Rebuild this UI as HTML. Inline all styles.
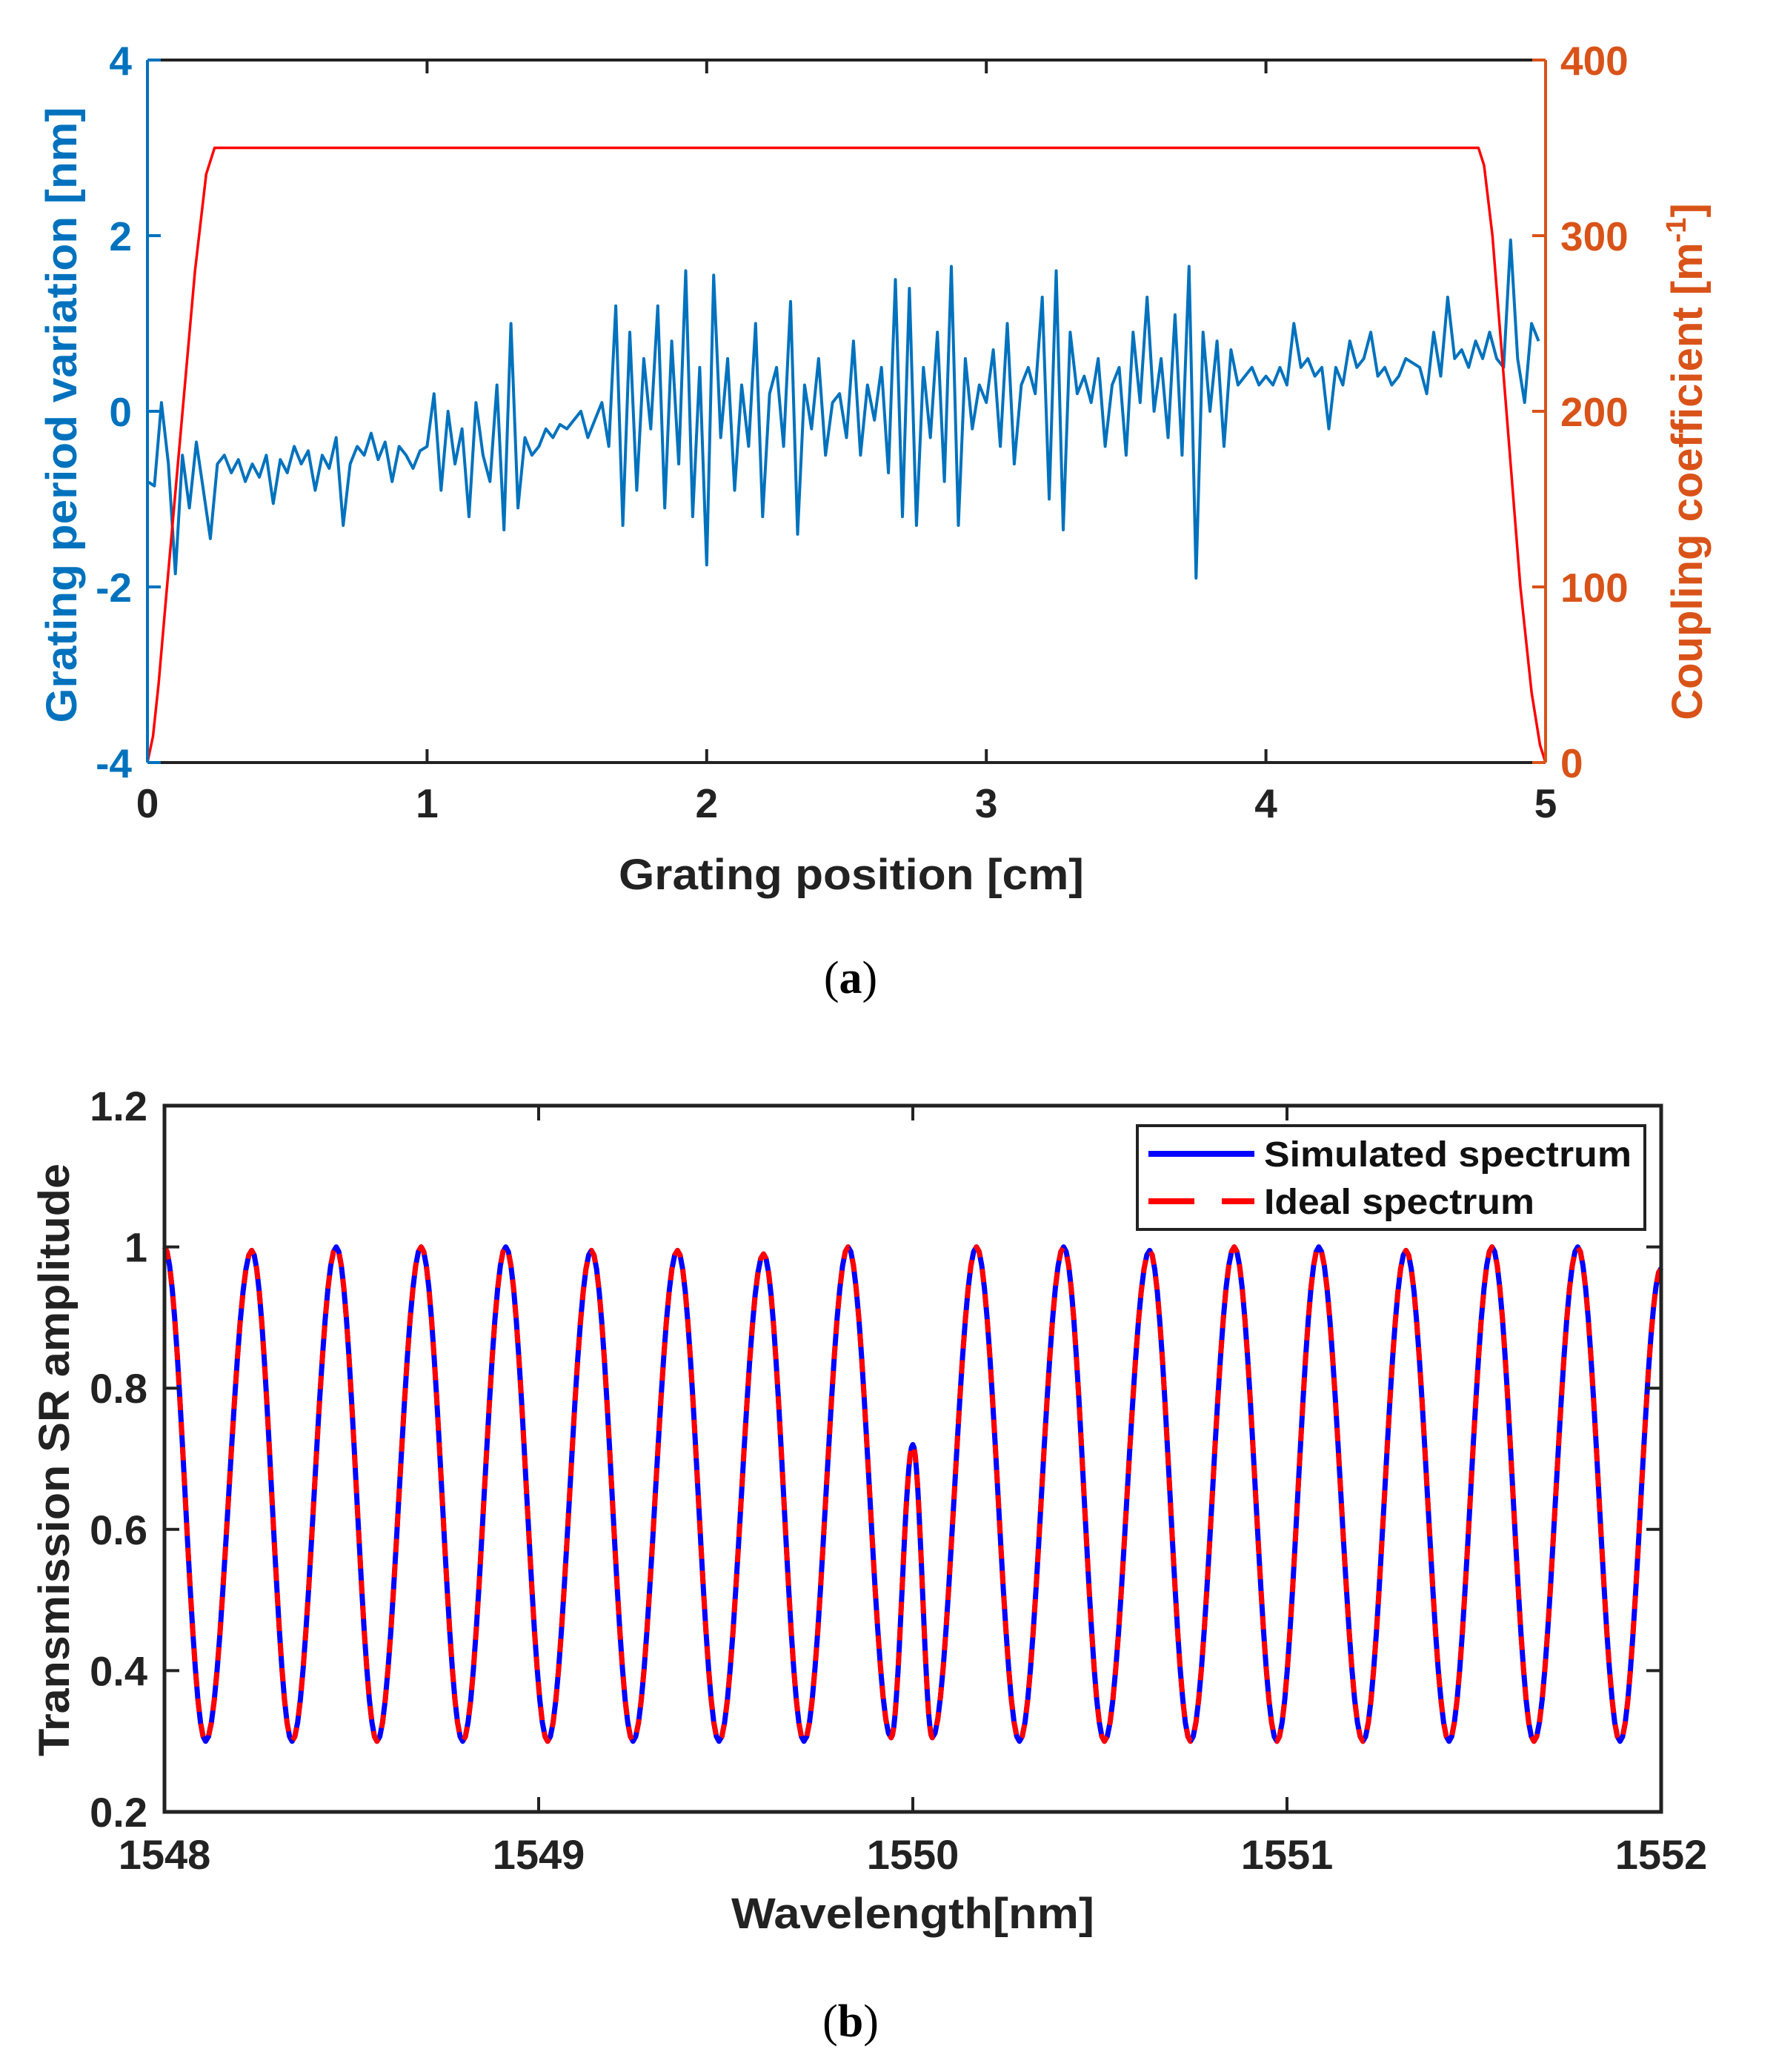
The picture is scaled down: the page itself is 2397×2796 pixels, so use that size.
<!DOCTYPE html>
<html><head><meta charset="utf-8"><style>
html,body{margin:0;padding:0;background:#fff;}
svg{display:block;font-family:"Liberation Sans",sans-serif;}
</style></head><body>
<svg id="fig" width="2397" height="2796" viewBox="0 0 2397 2796" xmlns="http://www.w3.org/2000/svg">
<g id="pa"></g>
<g id="pb"></g>
<text x="1148" y="1340" font-family="Liberation Serif,serif" font-size="62" text-anchor="middle">(<tspan font-weight="bold">a</tspan>)</text>
<text x="1148" y="2748" font-family="Liberation Serif,serif" font-size="62" text-anchor="middle">(<tspan font-weight="bold">b</tspan>)</text>
</svg>
<script>
// ---------- Chart A data ----------
const periodVar = [
-0.8,-0.85,0.1,-0.6,-1.85,-0.5,-1.1,-0.35,-0.9,-1.45,
-0.6,-0.5,-0.7,-0.55,-0.8,-0.6,-0.75,-0.5,-1.05,-0.55,
-0.7,-0.4,-0.6,-0.45,-0.9,-0.5,-0.65,-0.3,-1.3,-0.6,
-0.4,-0.5,-0.25,-0.55,-0.35,-0.8,-0.4,-0.5,-0.65,-0.45,
-0.4,0.2,-0.9,0.0,-0.6,-0.2,-1.2,0.1,-0.5,-0.8,
0.3,-1.35,1.0,-1.1,-0.3,-0.5,-0.4,-0.2,-0.3,-0.15,
-0.2,-0.1,0.0,-0.3,-0.1,0.1,-0.4,1.2,-1.3,0.9,
-0.9,0.6,-0.2,1.2,-1.1,0.8,-0.6,1.6,-1.2,0.5,
-1.75,1.55,-0.3,0.6,-0.9,0.3,-0.4,1.0,-1.2,0.2,
0.5,-0.4,1.25,-1.4,0.3,-0.2,0.6,-0.5,0.1,0.2,
-0.3,0.8,-0.5,0.3,-0.1,0.5,-0.7,1.5,-1.2,1.4,
-1.3,0.5,-0.3,0.9,-0.8,1.65,-1.3,0.6,-0.2,0.3,
0.1,0.7,-0.4,1.0,-0.6,0.3,0.5,0.2,1.3,-1.0,
1.6,-1.35,0.9,0.2,0.4,0.1,0.6,-0.4,0.3,0.5,
-0.5,0.9,0.1,1.3,0.0,0.6,-0.3,1.1,-0.5,1.65,
-1.9,0.9,0.0,0.8,-0.4,0.7,0.3,0.4,0.5,0.3,
0.4,0.3,0.5,0.3,1.0,0.5,0.6,0.4,0.5,-0.2,
0.5,0.3,0.8,0.5,0.6,0.9,0.4,0.5,0.3,0.4,
0.6,0.55,0.5,0.2,0.9,0.4,1.3,0.6,0.7,0.5,
0.8,0.6,0.9,0.6,0.5,1.95,0.6,0.1,1.0,0.8];
const periodStart = 0, periodEnd = 4.975;
const kappaX = [0,0.02,0.04,0.07,0.12,0.17,0.21,0.24,4.76,4.78,4.81,4.86,4.91,4.95,4.98,5.0];
const kappaY = [0,15,45,100,190,280,335,350,350,340,300,200,100,40,10,0];
const aXTicks = [0,1,2,3,4,5];
const aYLTicks = [-4,-2,0,2,4];
const aYRTicks = [0,100,200,300,400];
// ---------- Chart B data ----------
const specWl = [1548.0,1548.11,1548.233,1548.341,1548.459,1548.568,1548.686,1548.797,1548.912,1549.024,1549.141,1549.252,1549.371,1549.482,1549.601,1549.709,1549.827,1549.942,1550.0,1550.052,1550.170,1550.285,1550.403,1550.512,1550.633,1550.742,1550.859,1550.973,1551.085,1551.203,1551.318,1551.433,1551.548,1551.66,1551.777,1551.89,1552.0];
const specVal = [1.0,0.30,0.995,0.30,1.0,0.30,1.0,0.30,1.0,0.30,0.995,0.30,0.995,0.30,0.99,0.30,1.0,0.305,0.72,0.305,1.0,0.30,1.0,0.30,0.995,0.30,1.0,0.30,1.0,0.30,0.995,0.30,1.0,0.30,1.0,0.30,0.97];
const bXTicks = [1548,1549,1550,1551,1552];
const bYTicks = [0.2,0.4,0.6,0.8,1,1.2];

const NS="http://www.w3.org/2000/svg";
function mk(parent,tag,attrs,text){const e=document.createElementNS(NS,tag);for(const k in attrs)e.setAttribute(k,attrs[k]);if(text!==undefined)e.textContent=text;parent.appendChild(e);return e;}

// ---------- Chart A ----------
(function(){
const g=document.getElementById('pa');
const L=199,R=2086,T=81,B=1029;
const xs=v=>L+(v-0)/(5-0)*(R-L);
const yl=v=>B-(v+4)/8*(B-T);
const yr=v=>B-v/400*(B-T);
const BLUE='#0072BD',OR='#D95319';
let d='';
const n=periodVar.length;
periodVar.forEach((v,i)=>{const x=periodStart+i*(periodEnd-periodStart)/(n-1);d+=(i?'L':'M')+xs(x).toFixed(1)+','+yl(v).toFixed(1);});
const pl=mk(g,'path',{d:d,fill:'none',stroke:BLUE,'stroke-width':4,'stroke-linejoin':'round'});


let d2='';
kappaX.forEach((x,i)=>{d2+=(i?'L':'M')+xs(x).toFixed(1)+','+yr(kappaY[i]).toFixed(1);});
const kl=mk(g,'path',{d:d2,fill:'none',stroke:'#FF0000','stroke-width':3.5,'stroke-linejoin':'round'});


const ax=mk(g,'g',{});


mk(ax,'line',{x1:L,y1:T,x2:R,y2:T,stroke:'#222','stroke-width':4});
mk(ax,'line',{x1:L,y1:B,x2:R,y2:B,stroke:'#222','stroke-width':4});
mk(ax,'line',{x1:L,y1:T,x2:L,y2:B,stroke:BLUE,'stroke-width':4});
mk(ax,'line',{x1:R,y1:T,x2:R,y2:B,stroke:OR,'stroke-width':4});
aXTicks.forEach(t=>{const x=xs(t);
 if(t>0&&t<5){mk(ax,'line',{x1:x,y1:B,x2:x,y2:B-18,stroke:'#222','stroke-width':4});mk(ax,'line',{x1:x,y1:T,x2:x,y2:T+18,stroke:'#222','stroke-width':4});}
 const tl=mk(g,'text',{x:x,y:B+74,'font-size':55,'font-weight':'bold','text-anchor':'middle',fill:'#222'},String(t));
 
 
});
aYLTicks.forEach(t=>{const y=yl(t);
 mk(ax,'line',{x1:L,y1:y,x2:L+18,y2:y,stroke:BLUE,'stroke-width':4});
 const tl=mk(g,'text',{x:178,y:y+20,'font-size':55,'font-weight':'bold','text-anchor':'end',fill:BLUE},String(t));
 
 
});
aYRTicks.forEach(t=>{const y=yr(t);
 mk(ax,'line',{x1:R,y1:y,x2:R-18,y2:y,stroke:OR,'stroke-width':4});
 const tl=mk(g,'text',{x:2106,y:y+20,'font-size':55,'font-weight':'bold','text-anchor':'start',fill:OR},String(t));
 
 
});
const xt=mk(g,'text',{x:1149,y:1200,'font-size':58,'font-weight':'bold','text-anchor':'middle',fill:'#222',textLength:628,lengthAdjust:'spacingAndGlyphs'},'Grating position [cm]');


const yt=mk(g,'text',{x:0,y:0,transform:'translate(103,560) rotate(-90)','font-size':58,'font-weight':'bold','text-anchor':'middle',fill:BLUE,textLength:831,lengthAdjust:'spacingAndGlyphs'},'Grating period variation [nm]');


const rt=mk(g,'text',{x:0,y:0,transform:'translate(2297,623) rotate(-90)','font-size':58,'font-weight':'bold','text-anchor':'middle',fill:OR});


mk(rt,'tspan',{},'Coupling coefficient [m');
mk(rt,'tspan',{dy:-22,'font-size':38},'-1');
mk(rt,'tspan',{dy:22},']');
})();

// ---------- Chart B ----------
(function(){
const g=document.getElementById('pb');
const L=222,R=2242,T=1492,B=2445;
const xs=v=>L+(v-1548)/4*(R-L);
const ys=v=>B-(v-0.2)/1.0*(B-T);
let d='';
for(let i=0;i<specWl.length;i++){
 if(i===0){d+='M'+xs(specWl[0]).toFixed(1)+','+ys(specVal[0]).toFixed(1);continue;}
 const x0=specWl[i-1],x1=specWl[i],v0=specVal[i-1],v1=specVal[i];
 for(let k=1;k<=16;k++){const t=k/16;const x=x0+(x1-x0)*t;const v=v0+(v1-v0)*(1-Math.cos(Math.PI*t))/2;d+='L'+xs(x).toFixed(1)+','+ys(v).toFixed(1);}
}
const sim=mk(g,'path',{d:d,fill:'none',stroke:'#0000FF','stroke-width':7,'stroke-linejoin':'round'});


const ide=mk(g,'path',{d:d,fill:'none',stroke:'#FF0000','stroke-width':7,'stroke-dasharray':'18 16','stroke-linejoin':'round'});


const ax=mk(g,'g',{});


mk(ax,'rect',{x:L,y:T,width:R-L,height:B-T,fill:'none',stroke:'#222','stroke-width':5});
bXTicks.forEach(t=>{const x=xs(t);
 if(t>1548&&t<1552){mk(ax,'line',{x1:x,y1:B,x2:x,y2:B-20,stroke:'#222','stroke-width':4});mk(ax,'line',{x1:x,y1:T,x2:x,y2:T+20,stroke:'#222','stroke-width':4});}
 const tl=mk(g,'text',{x:x,y:2522,'font-size':56,'font-weight':'bold','text-anchor':'middle',fill:'#222'},String(t));
 
 
});
bYTicks.forEach(t=>{const y=ys(t);
 if(t>0.2&&t<1.2){mk(ax,'line',{x1:L,y1:y,x2:L+20,y2:y,stroke:'#222','stroke-width':4});mk(ax,'line',{x1:R,y1:y,x2:R-20,y2:y,stroke:'#222','stroke-width':4});}
 const tl=mk(g,'text',{x:199,y:y+20,'font-size':56,'font-weight':'bold','text-anchor':'end',fill:'#222'},String(t));
 
 
});
const xt=mk(g,'text',{x:1232,y:2602,'font-size':58,'font-weight':'bold','text-anchor':'middle',fill:'#222',textLength:490,lengthAdjust:'spacingAndGlyphs'},'Wavelength[nm]');


const yt=mk(g,'text',{x:0,y:0,transform:'translate(93,1970) rotate(-90)','font-size':58,'font-weight':'bold','text-anchor':'middle',fill:'#222',textLength:800,lengthAdjust:'spacingAndGlyphs'},'Transmission SR amplitude');


// legend
const lg=mk(g,'g',{});


mk(lg,'rect',{x:1535,y:1519,width:685,height:140,fill:'#fff',stroke:'#222','stroke-width':4});
mk(lg,'line',{x1:1550,y1:1557,x2:1693,y2:1557,stroke:'#0000FF','stroke-width':8});
mk(lg,'line',{x1:1550,y1:1621,x2:1693,y2:1621,stroke:'#FF0000','stroke-width':8,'stroke-dasharray':'62 37'});
const t1=mk(lg,'text',{x:1706,y:1574,'font-size':48,'font-weight':'bold',fill:'#111',textLength:496,lengthAdjust:'spacingAndGlyphs'},'Simulated spectrum');


const t2=mk(lg,'text',{x:1706,y:1638,'font-size':48,'font-weight':'bold',fill:'#111',textLength:365,lengthAdjust:'spacingAndGlyphs'},'Ideal spectrum');


})();
</script>
</body></html>
